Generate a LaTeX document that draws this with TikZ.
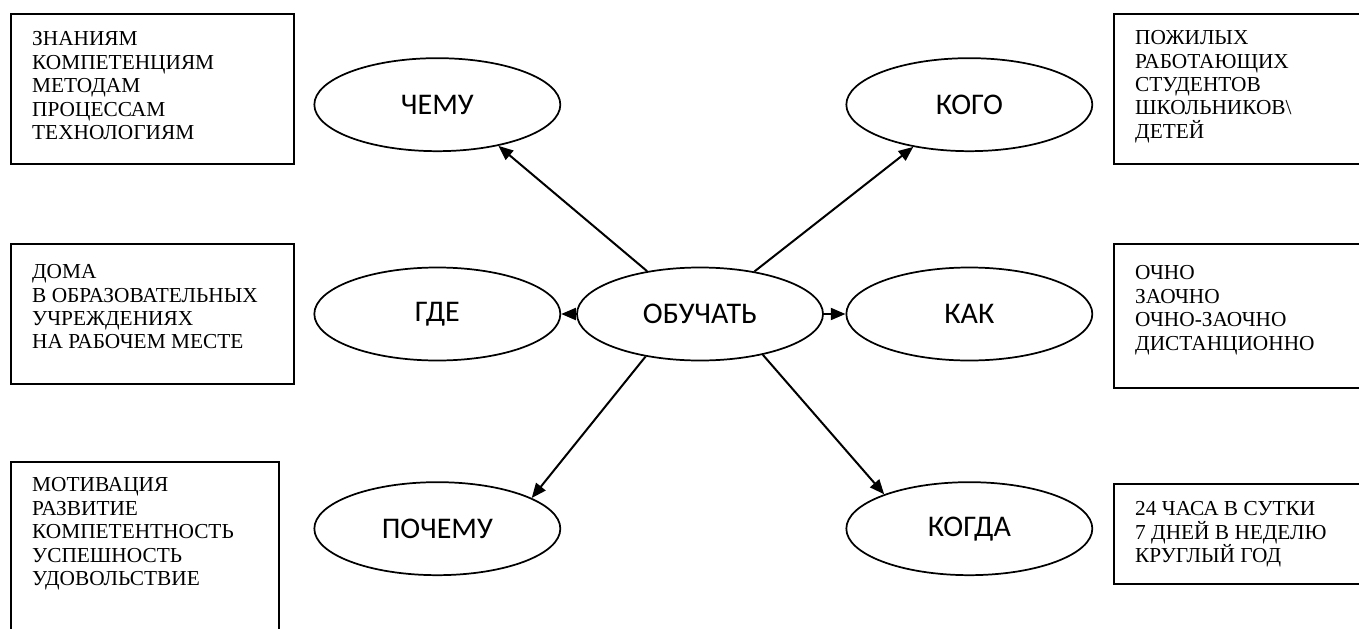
\documentclass[tikz,border=0pt]{standalone}
\usepackage{fontspec}
\setmainfont{Liberation Serif}
\newfontfamily\ovalfont{Carlito}
\usetikzlibrary{arrows.meta}
\usetikzlibrary{positioning}
\usetikzlibrary{shapes.geometric}

% width, height, first baseline, lines
\newcommand{\spisok}[4]{\begin{minipage}[t][#2][t]{#1}\fontsize{16pt}{17.6pt}\selectfont
  \rule{0pt}{#3}#4\end{minipage}}

\begin{document}
\begin{tikzpicture}[x=0.75pt, y=-0.75pt, ->, >={Triangle[length=11pt,width=9pt]}, line width=1.5pt, on grid,
    oval/.style={ellipse, draw, line width=1.3pt, minimum width=184.5pt, minimum height=69.75pt, inner sep=0pt,
      font=\ovalfont\fontsize{22.5pt}{27pt}\selectfont},
    spis/.style={rectangle, draw, line width=1.3pt, anchor=north west, inner xsep=16pt, inner ysep=0pt}]
        \clip (0,0) rectangle (1359,628);

        \node[oval] (obuch) at (700,314) {ОБУЧАТЬ};
        \node[oval] (chemu) [above left=157pt and 197pt of obuch] {ЧЕМУ};
        \node[oval] (kogo) [above right=157pt and 202pt of obuch] {КОГО};
        \node[oval] (gde) [left=197pt of obuch] {ГДЕ};
        \node[oval] (kak) [right=202pt of obuch] {КАК};
        \node[oval] (pochemu) [below left=161pt and 197pt of obuch] {ПОЧЕМУ};
        \node[oval] (kogda) [below right=161pt and 202pt of obuch] {КОГДА};

        \node[spis] (chemuspis) at (10,13) {\spisok{180.25pt}{112.5pt}{24pt}{ЗНАНИЯМ\\КОМПЕТЕНЦИЯМ\\МЕТОДАМ\\ПРОЦЕССАМ\\ТЕХНОЛОГИЯМ}};
        \node[spis] (kogospis) at (1113,13) {\spisok{183pt}{112.5pt}{23pt}{ПОЖИЛЫХ\\РАБОТАЮЩИХ\\СТУДЕНТОВ\\ШКОЛЬНИКОВ\textbackslash\\ДЕТЕЙ}};
        \node[spis] (gdespis) at (10,243) {\spisok{180.25pt}{105pt}{26pt}{ДОМА\\В ОБРАЗОВАТЕЛЬНЫХ\\УЧРЕЖДЕНИЯХ\\НА РАБОЧЕМ МЕСТЕ}};
        \node[spis] (kakspis) at (1113,243) {\spisok{183pt}{108pt}{27pt}{ОЧНО\\ЗАОЧНО\\ОЧНО-ЗАОЧНО\\ДИСТАНЦИОННО}};
        \node[spis] (pochspis) at (10,461) {\spisok{169pt}{141.75pt}{22.5pt}{МОТИВАЦИЯ\\РАЗВИТИЕ\\КОМПЕТЕНТНОСТЬ\\УСПЕШНОСТЬ\\УДОВОЛЬСТВИЕ}};
        \node[spis] (kogdaspis) at (1113,483) {\spisok{183pt}{75pt}{24pt}{24 ЧАСА В СУТКИ\\7 ДНЕЙ В НЕДЕЛЮ\\КРУГЛЫЙ ГОД}};

        \path (obuch.141.6) edge (chemu.326)
              (obuch.38.4) edge (kogo.217.5)
              (obuch) edge (gde)
              (obuch) edge (kak)
              (obuch.218.4) edge (pochemu.18.5)
              (obuch.327.4) edge (kogda.158);
\end{tikzpicture}
\end{document}
